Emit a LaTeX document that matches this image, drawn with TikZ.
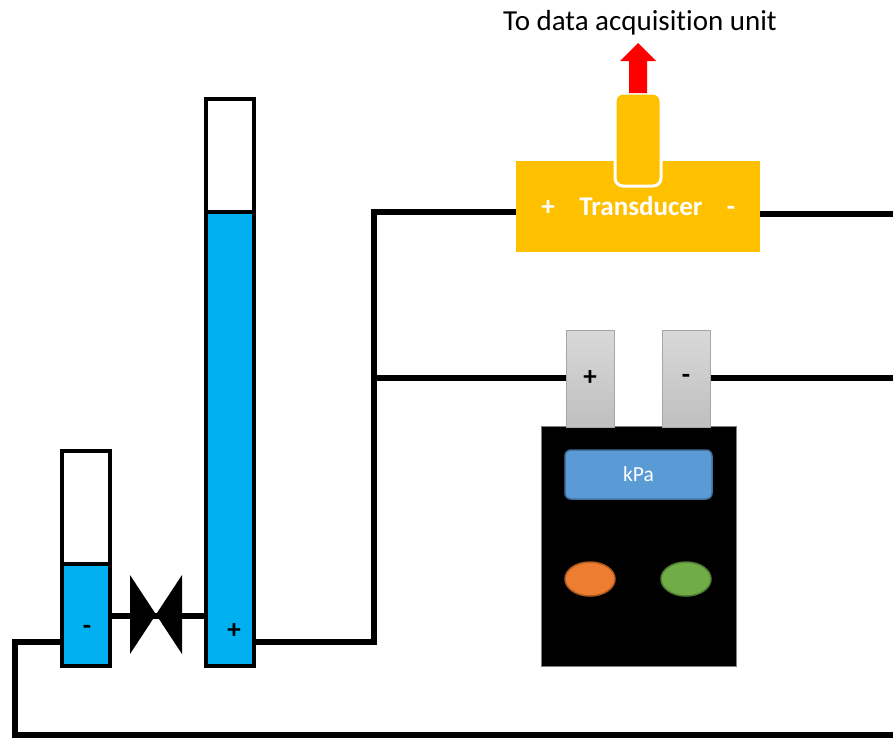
\documentclass[tikz,border=0pt]{standalone}
\usepackage{fontspec}
\setmainfont{Carlito}[Ligatures=NoCommon]
\usetikzlibrary{calc,shapes.geometric}
\pgfdeclarelayer{pipes}
\pgfsetlayers{pipes,main}

\definecolor{water}{HTML}{00B0F0}
\definecolor{amber}{HTML}{FFC000}
\definecolor{lcdblue}{HTML}{5B9BD5}
\definecolor{lcdedge}{HTML}{41719C}
\definecolor{ledorange}{HTML}{ED7D31}
\definecolor{ledorangeedge}{HTML}{AE5A21}
\definecolor{ledgreen}{HTML}{70AD47}
\definecolor{ledgreenedge}{HTML}{507E32}

\tikzset{
  box/.style={rectangle, inner sep=0pt, outer sep=0pt},
  tube/.style={box, draw=black, line width=4pt, fill=white},
  wateredge/.style={box, draw=black, line width=4pt, fill=water},
  pipe/.style={line width=6pt, black, line join=miter},
  tabbox/.style={box, draw=black!35, line width=1pt, top color=black!15, bottom color=black!25},
  led/.style={ellipse, minimum width=50pt, minimum height=34pt, line width=1.5pt, inner sep=0pt},
  signtext/.style={font=\fontsize{27}{31}\selectfont\bfseries, inner sep=0pt},
}

\begin{document}
\begin{tikzpicture}[x=1pt, y=-1pt]
\useasboundingbox (0,0) rectangle (893,740);

% manometer tubes (outer edge 4pt wide)
\node[tube, minimum width=48pt, minimum height=215pt] (small) at (86,558.5) {};
\node[wateredge, minimum width=48pt, minimum height=102pt] (smallwater) at (86,615) {};
\node[tube, minimum width=48pt, minimum height=567pt] (tall) at (230,382.5) {};
\node[wateredge, minimum width=48pt, minimum height=454pt] (tallwater) at (230,439) {};
\node[signtext] (minuslabel) at (87,630) {-};
\node[signtext] (pluslabel) at (234,631) {+};

% valve between the tubes
\coordinate (valve) at (156,616);
\fill[black] (130,575) -- (182,654) -- (182,575) -- (130,654) -- cycle;

% transducer with its probe and signal arrow
\node[box, fill=amber, minimum width=244pt, minimum height=91pt] (transducer) at (638,206.5) {};
\node[box, fill=amber, draw=white, line width=3pt, rounded corners=8pt,
      minimum width=46pt, minimum height=93pt] (probe) at (638,139.5) {};
\fill[red] (629,93) -- (629,61) -- (620,61) -- (638,43) -- (656,61) -- (647,61) -- (647,93) -- cycle;
\node[inner sep=0pt, font=\fontsize{29}{33}\selectfont] (daq) at (640,23) {To data acquisition unit};
\node[signtext, text=white, anchor=base] (tplus) at (548,215) {+};
\node[signtext, text=white, anchor=base] (tname) at (641,215) {Transducer};
\node[signtext, text=white, anchor=base] (tminus) at (731,215) {-};

% pressure gauge
\node[box, fill=black, draw=black!50, line width=1pt, minimum width=195pt, minimum height=240pt] (gauge) at (638.5,546) {};
\node[tabbox, minimum width=48pt, minimum height=97pt] (tabplus) at (590,378.5) {};
\node[tabbox, minimum width=48pt, minimum height=97pt] (tabminus) at (686,378.5) {};
\node[signtext] at (tabplus.center) {+};
\node[signtext] at (tabminus.center) {-};
\node[box, fill=lcdblue, draw=lcdedge, line width=1.5pt, rounded corners=6pt,
      minimum width=147pt, minimum height=49pt, text=white,
      font=\fontsize{21.5}{25}\selectfont] (display) at (638.5,474.5) {kPa};
\node[led, fill=ledorange, draw=ledorangeedge] (ledA) at (590,579) {};
\node[led, fill=ledgreen, draw=ledgreenedge] (ledB) at (686,579) {};

% connecting lines
\coordinate (loopL) at (15,642);
\coordinate (loopB) at (15,735);
\coordinate (loopR) at (896,735);
\coordinate (riser) at (374,642);
\coordinate (riserTop) at (374,212);
\coordinate (branch) at (374,378);
\coordinate (outA) at (896,214);
\coordinate (outB) at (896,378);

\begin{pgfonlayer}{pipes}
\draw[pipe] (small.west |- loopL) -- (loopL) -- (loopB) -- (loopR);
\draw[pipe] (small.east |- valve) -- (tall.west |- valve);
\draw[pipe] (tall.east |- riser) -- (riser) -- (riserTop) -- (transducer.west |- riserTop);
\draw[pipe] (branch) -- (tabplus.west |- branch);
\draw[pipe] (transducer.east |- outA) -- (outA);
\draw[pipe] (tabminus.east |- outB) -- (outB);
\end{pgfonlayer}
\end{tikzpicture}
\end{document}
